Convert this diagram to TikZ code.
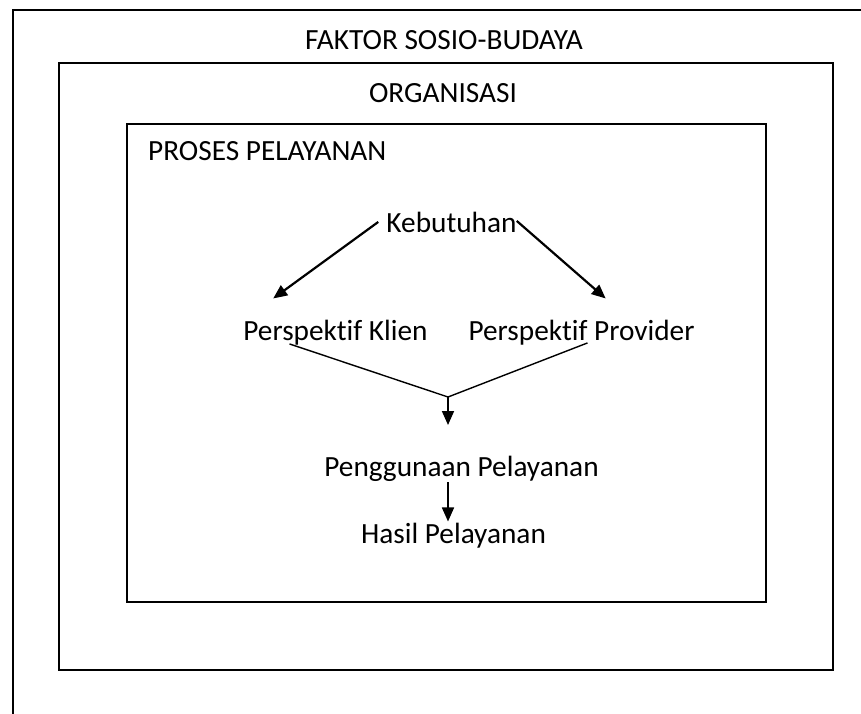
\documentclass[tikz,border=0pt]{standalone}
\usepackage{fontspec}
\setmainfont{Carlito}[Ligatures=NoCommon]
\usetikzlibrary{arrows.meta}
\begin{document}
\begin{tikzpicture}[x=1pt,y=-1pt,
  lbl/.style={inner sep=1pt, font=\fontsize{29.3}{34}\selectfont},
  frame/.style={draw, line width=1.7pt},
  arr/.style={line width=2.2pt, -{Triangle[length=14pt,width=12pt]}},
  joinline/.style={line width=1.4pt}]
\useasboundingbox (0,0) rectangle (861,713);
\clip (0,0) rectangle (861,713);
% frames
\draw[frame, line width=2.4pt] (13,10) rectangle (890,740);
\draw[frame] (59,63) rectangle (833,670);
\draw[frame] (127,124) rectangle (766,602);
% titles
\node[lbl, anchor=base] (sosbud) at (444,49) {FAKTOR SOSIO-BUDAYA};
\node[lbl, anchor=base] (org) at (443,102) {ORGANISASI};
\node[lbl, anchor=base west] (proses) at (147,160) {PROSES PELAYANAN};
% process
\node[lbl, anchor=base] (keb) at (451.5,232) {Kebutuhan};
\node[lbl, anchor=base] (klien) at (335.5,340) {Perspektif Klien};
\node[lbl, anchor=base] (prov) at (581.5,340) {Perspektif Provider};
\node[lbl, anchor=base] (pengg) at (461.5,476) {Penggunaan Pelayanan};
\node[lbl, anchor=base] (hasil) at (453.5,543) {Hasil Pelayanan};
\coordinate (mrg) at (448,397);
\coordinate (mrgtip) at (448,425);
\draw[arr] ([xshift=-7pt]keb.west) -- ([xshift=31pt,yshift=20pt]klien.north west);
\draw[arr] ([xshift=-1pt,yshift=1pt]keb.east) -- ([xshift=-90pt,yshift=20pt]prov.north east);
\draw[joinline] ([xshift=-46pt,yshift=2pt]klien.south) -- (mrg);
\draw[joinline] ([xshift=6pt,yshift=3pt]prov.south) -- (mrg);
\draw[arr, line width=1.7pt] (mrg) -- (mrgtip);
\draw[arr, line width=1.7pt] (pengg.south -| mrg) -- (hasil.north -| mrg);
\end{tikzpicture}
\end{document}
